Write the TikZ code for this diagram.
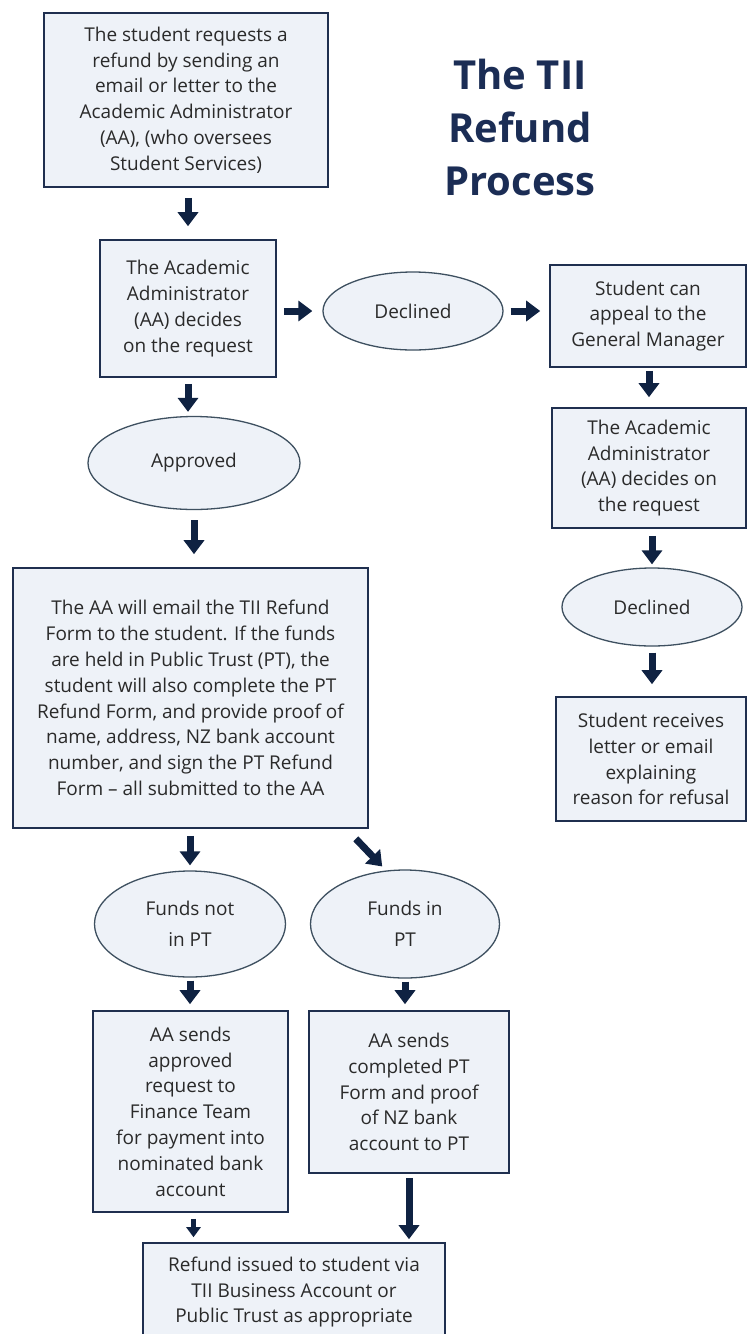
\documentclass[tikz,border=0pt]{standalone}
\usepackage{fontspec}
\setmainfont{Open Sans}
\usetikzlibrary{shapes.geometric,arrows.meta,calc}
\definecolor{boxfill}{HTML}{EEF2F8}
\definecolor{boxline}{HTML}{1F2F4F}
\definecolor{ellline}{HTML}{3E5060}
\definecolor{arrcol}{HTML}{0F2242}
\definecolor{txt}{HTML}{2A2A2A}
\definecolor{ttl}{HTML}{1B2D55}
\begin{document}
\begin{tikzpicture}[x=1pt,y=-1pt,
  stepbox/.style={draw=boxline, line width=1.6pt, fill=boxfill, rectangle, inner sep=0pt, align=center, text=txt, font=\fontsize{19}{25.8}\selectfont},
  decision/.style={draw=ellline, line width=1.3pt, fill=boxfill, ellipse, inner sep=0pt, align=center, text=txt, font=\fontsize{19}{31}\selectfont},
  arr/.style={draw=arrcol, line width=7pt, -{Triangle[width=20pt,length=14pt]}},
  smallarr/.style={draw=arrcol, line width=5.5pt, -{Triangle[width=14pt,length=10pt]}}
]
\clip (0,0) rectangle (748,1334);
\fill[white] (0,0) rectangle (748,1334);

\node[stepbox, minimum width=284pt, minimum height=174pt] (b1) at (186,100) {The student requests a\\refund by sending an\\email or letter to the\\Academic Administrator\\(AA), (who oversees\\Student Services)};
\node[font=\bfseries\fontsize{40}{53}\selectfont, text=ttl, align=center] (title) at (520,127) {The TII\\Refund\\Process};

\node[stepbox, minimum width=176pt, minimum height=137pt] (b2) at (188,308.5) {The Academic\\Administrator\\(AA) decides\\on the request};
\node[decision, minimum width=180pt, minimum height=78pt] (d1) at (413,311) {Declined};
\node[stepbox, minimum width=196pt, minimum height=102pt] (ap) at (648,316) {Student can\\appeal to the\\General Manager};
\node[stepbox, minimum width=194pt, minimum height=120pt] (aa2) at (649,468) {The Academic\\Administrator\\(AA) decides on\\the request};
\node[decision, minimum width=180pt, minimum height=78pt] (d2) at (652,607) {Declined};
\node[stepbox, minimum width=190pt, minimum height=124pt] (rec) at (651,759) {Student receives\\letter or email\\explaining\\reason for refusal};

\node[decision, minimum width=212pt, minimum height=93pt] (apr) at (194,463) {Approved};
\node[stepbox, minimum width=355pt, minimum height=260pt] (big) at (190.5,698) {The AA will email the TII Refund\\Form to the student. If the funds\\are held in Public Trust (PT), the\\student will also complete the PT\\Refund Form, and provide proof of\\name, address, NZ bank account\\number, and sign the PT Refund\\Form – all submitted to the AA};

\node[decision, minimum width=191pt, minimum height=106pt] (fnp) at (190,924) {Funds not\\in PT};
\node[decision, minimum width=189pt, minimum height=108pt] (fip) at (405,924) {Funds in\\PT};

\node[stepbox, minimum width=195pt, minimum height=201pt] (as1) at (190.5,1111.5) {AA sends\\approved\\request to\\Finance Team\\for payment into\\nominated bank\\account};
\node[stepbox, minimum width=200pt, minimum height=162pt] (as2) at (409,1092) {AA sends\\completed PT\\Form and proof\\of NZ bank\\account to PT};
\node[stepbox, minimum width=302pt, minimum height=98pt] (ref) at (294,1292) {Refund issued to student via\\TII Business Account or\\Public Trust as appropriate};

\draw[arr, shorten <=10pt, shorten >=13pt] (b1.south -| b2.north) -- (b2.north);
\draw[arr, shorten <=7pt, shorten >=10pt] (b2.east |- d1.west) -- (d1.west);
\draw[arr, shorten <=7pt, shorten >=9pt] (d1.east) -- (d1.east -| ap.west);
\draw[arr, shorten <=3pt, shorten >=10pt] (ap.south -| aa2.north) -- (aa2.north);
\draw[arr, shorten <=7pt, shorten >=3pt] (aa2.south -| d2.north) -- (d2.north);
\draw[arr, shorten <=6pt, shorten >=12pt] (d2.south) -- (d2.south |- rec.north);
\draw[arr, shorten <=6pt, shorten >=4pt] (b2.south) -- (b2.south |- apr.north);
\draw[arr, shorten <=10pt, shorten >=13pt] (apr.south) -- (apr.south |- big.north);
\draw[arr, shorten <=7pt, shorten >=5pt] (big.south -| fnp.north) -- (fnp.north);
\draw[arr, shorten >=4pt] ([xshift=-13pt,yshift=-10pt]big.south east) -- ([xshift=-20pt]fip.north);
\draw[arr, shorten <=3pt, shorten >=6pt] (fnp.south) -- (fnp.south |- as1.north);
\draw[arr, shorten <=3pt, shorten >=6pt] (fip.south) -- (fip.south |- as2.north);
\draw[smallarr, shorten <=6pt, shorten >=5pt] ([xshift=3pt]as1.south) -- ([xshift=3pt]as1.south |- ref.north);
\draw[arr, shorten <=4pt, shorten >=3pt] (as2.south) -- (as2.south |- ref.north);
\end{tikzpicture}
\end{document}
